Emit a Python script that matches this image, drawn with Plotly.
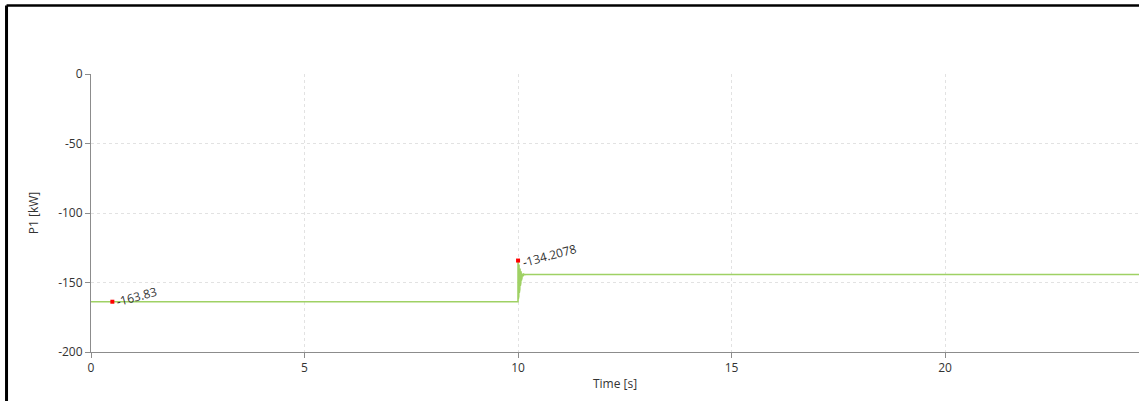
import plotly.graph_objects as go

# Data
t_before = [0.0, 9.999]
p_before = [-163.83, -163.83]
t_trans = [10.0, 10.004, 10.010, 10.016, 10.022, 10.028, 10.034, 10.040, 10.046, 10.052,
           10.058, 10.064, 10.070, 10.076, 10.082, 10.090, 10.100, 10.115, 10.130, 10.150]
p_trans = [-134.21, -162.0, -135.5, -160.0, -137.0, -157.5, -138.5, -155.0, -140.0, -152.5,
           -141.0, -150.5, -142.0, -148.5, -143.0, -147.0, -143.5, -145.5, -144.0, -144.3]
t_after = [10.2, 24.6]
p_after = [-144.2, -144.2]

marker_t = [0.5, 10.0]
marker_p = [-163.83, -134.2078]
marker_labels = ["-163.83", "-134.2078"]

x_ticks = [0, 5, 10, 15, 20]
y_ticks = [0, -50, -100, -150, -200]

t_all = t_before + t_trans + t_after
p_all = p_before + p_trans + p_after

FONT = "Open Sans"
TXT = "#333333"

fig = go.Figure()
fig.add_trace(go.Scatter(x=t_all, y=p_all, mode="lines",
                         line=dict(color="#9fd164", width=1.6), showlegend=False,
                         hoverinfo="skip"))
fig.add_trace(go.Scatter(x=marker_t, y=marker_p, mode="markers",
                         marker=dict(color="#ff0000", symbol="square", size=4),
                         showlegend=False))
for tx, py, lab in zip(marker_t, marker_p, marker_labels):
    fig.add_annotation(x=tx, y=py, text=lab, showarrow=False, textangle=-15,
                       xanchor="left", yanchor="middle", xshift=0, yshift=5,
                       font=dict(family=FONT, size=12, color=TXT))

axis_common = dict(showline=True, linecolor="#8c8c8c", linewidth=1,
                   ticks="outside", ticklen=5, tickcolor="#8c8c8c",
                   showgrid=True, gridcolor="#e2e2e2", griddash="dot", gridwidth=1,
                   zeroline=False, tickfont=dict(family=FONT, size=12, color=TXT))

fig.update_xaxes(range=[0, 24.54], tickvals=x_ticks, ticktext=[str(v) for v in x_ticks],
                 title=dict(text="Time [s]", standoff=4,
                            font=dict(family=FONT, size=12, color=TXT)),
                 **axis_common)
fig.update_yaxes(range=[-200, 0], tickvals=y_ticks, ticktext=[str(v) for v in y_ticks],
                 title=dict(text="P1 [kW]", standoff=16,
                            font=dict(family=FONT, size=12, color=TXT)),
                 **axis_common)

# window frame (top and left border)
fig.add_shape(type="line", xref="paper", yref="paper", x0=-0.0806, x1=1.0, y0=1.2464, y1=1.2464,
              line=dict(color="#000000", width=2.5))
fig.add_shape(type="line", xref="paper", yref="paper", x0=-0.0806, x1=-0.0806, y0=1.2464, y1=-0.2,
              line=dict(color="#000000", width=3))

fig.update_layout(width=1139, height=401, margin=dict(l=91, r=0, t=74, b=49),
                  paper_bgcolor="white", plot_bgcolor="white")
fig.write_html("out.html", config={"displayModeBar": False},
               post_script="document.body.style.margin='0';")
